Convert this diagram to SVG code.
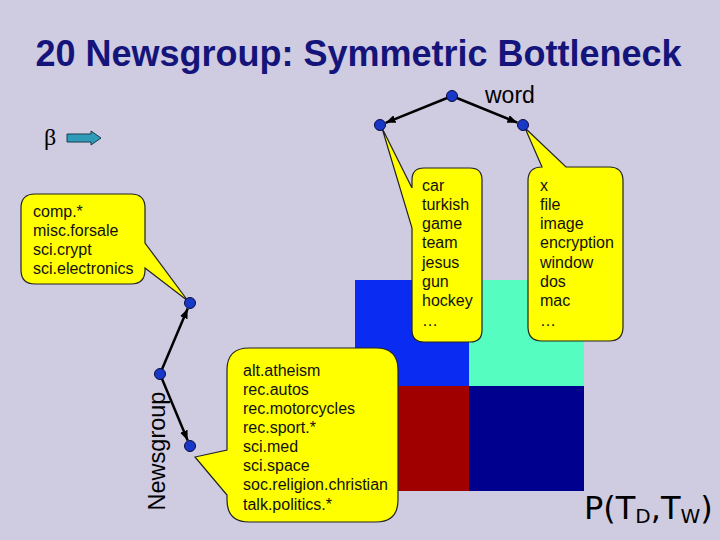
<svg xmlns="http://www.w3.org/2000/svg" width="720" height="540" viewBox="0 0 720 540">
<style>
.bg{fill:#CFCBE1}
.title{font-family:"Liberation Sans",Arial,sans-serif;font-weight:bold;font-size:36px;fill:#14147A}
.lbl{font-family:"Liberation Sans",Arial,sans-serif;fill:#000}
.call{fill:#FFFF00;stroke:#222;stroke-width:1.2}
.ct{font-family:"Liberation Sans",Arial,sans-serif;font-size:16px;fill:#111}
.dot{fill:#1838C8;stroke:#0A0A40;stroke-width:1}
.edge{stroke:#000;stroke-width:2.5;fill:none}
</style>
<defs>
<marker id="ah" markerUnits="userSpaceOnUse" markerWidth="10" markerHeight="8" refX="10" refY="4" orient="auto">
<path d="M0,0 L10,4 L0,8 Z" fill="#000"/>
</marker>
</defs>
<rect class="bg" x="0" y="0" width="720" height="540"/>
<text class="title" x="358.5" y="66" text-anchor="middle">20 Newsgroup: Symmetric Bottleneck</text>
<text class="lbl" x="485" y="103" font-size="23">word</text>
<g id="beta">
<text x="44" y="145" font-family="Liberation Serif,serif" font-size="24" fill="#000">β</text>
<path d="M67,134 H91 V131 L101,138 L91,145 V142 H67 Z" fill="#2E9CB8" stroke="#1a3a50" stroke-width="1"/>
</g>
<g id="matrix">
<rect x="355" y="280" width="114" height="106" fill="#0A2BF2"/>
<rect x="469" y="280" width="115" height="106" fill="#55FDC0"/>
<rect x="355" y="386" width="114" height="105" fill="#A00000"/>
<rect x="469" y="386" width="115" height="105" fill="#00008E"/>
</g>
<g id="callout-newsgroup-top">
<path class="call" d="M35,194 H131 Q145,194 145,208 V243 L188,301 L145,268 V270 Q145,284 131,284 H35 Q21,284 21,270 V208 Q21,194 35,194 Z"/>
<text class="ct" x="33" y="217">comp.*</text>
<text class="ct" x="33" y="236">misc.forsale</text>
<text class="ct" x="33" y="255">sci.crypt</text>
<text class="ct" x="33" y="274">sci.electronics</text>
</g>
<g id="callout-word-left">
<path class="call" d="M424,168 H470 Q482,168 482,180 V330 Q482,342 470,342 H424 Q412,342 412,330 V228 L382,128 L412,188 V180 Q412,168 424,168 Z"/>
<text class="ct" x="422" y="191">car</text>
<text class="ct" x="422" y="210">turkish</text>
<text class="ct" x="422" y="229">game</text>
<text class="ct" x="422" y="248">team</text>
<text class="ct" x="422" y="268">jesus</text>
<text class="ct" x="422" y="287">gun</text>
<text class="ct" x="422" y="306">hockey</text>
<text class="ct" x="422" y="326">…</text>
</g>
<g id="callout-word-right">
<path class="call" d="M542,167 L525,128 L566,167 H609 Q623,167 623,181 V327 Q623,341 609,341 H542 Q528,341 528,327 V181 Q528,167 542,167 Z"/>
<text class="ct" x="540" y="191">x</text>
<text class="ct" x="540" y="210">file</text>
<text class="ct" x="540" y="229">image</text>
<text class="ct" x="540" y="248">encryption</text>
<text class="ct" x="540" y="268">window</text>
<text class="ct" x="540" y="287">dos</text>
<text class="ct" x="540" y="306">mac</text>
<text class="ct" x="540" y="326">…</text>
</g>
<g id="callout-newsgroup-bottom">
<path class="call" d="M249,348 H376 Q398,348 398,370 V500 Q398,522 376,522 H249 Q227,522 227,500 V495 L195,457 L227,450 V370 Q227,348 249,348 Z"/>
<text class="ct" x="243" y="376">alt.atheism</text>
<text class="ct" x="243" y="395">rec.autos</text>
<text class="ct" x="243" y="414">rec.motorcycles</text>
<text class="ct" x="243" y="433">rec.sport.*</text>
<text class="ct" x="243" y="452">sci.med</text>
<text class="ct" x="243" y="471">sci.space</text>
<text class="ct" x="243" y="490">soc.religion.christian</text>
<text class="ct" x="243" y="510">talk.politics.*</text>
</g>
<g id="connectors">
<line class="edge" x1="452" y1="96" x2="385.6" y2="122.8" marker-end="url(#ah)"/>
<line class="edge" x1="452" y1="96" x2="517.4" y2="122.7" marker-end="url(#ah)"/>
<line class="edge" x1="160" y1="374" x2="187.7" y2="308.5" marker-end="url(#ah)"/>
<line class="edge" x1="160" y1="374" x2="187.7" y2="440.5" marker-end="url(#ah)"/>
</g>
<g id="word-root"><circle class="dot" cx="452" cy="96" r="5.5"/></g>
<g id="word-left"><circle class="dot" cx="380" cy="125" r="5.5"/></g>
<g id="word-right"><circle class="dot" cx="523" cy="125" r="5.5"/></g>
<g id="ng-top"><circle class="dot" cx="190" cy="303" r="5.5"/></g>
<g id="ng-root"><circle class="dot" cx="160" cy="374" r="5.5"/></g>
<g id="ng-bottom"><circle class="dot" cx="190" cy="446" r="5.5"/></g>
<text class="lbl" font-size="23.5" text-anchor="middle" transform="translate(165,451) rotate(-90)">Newsgroup</text>
<text x="584" y="519" font-family="'DejaVu Sans',sans-serif" font-size="32" fill="#000">P(T<tspan font-size="20" dy="4">D</tspan><tspan dy="-4">,T</tspan><tspan font-size="20" dy="4">W</tspan><tspan dy="-4">)</tspan></text>
</svg>
